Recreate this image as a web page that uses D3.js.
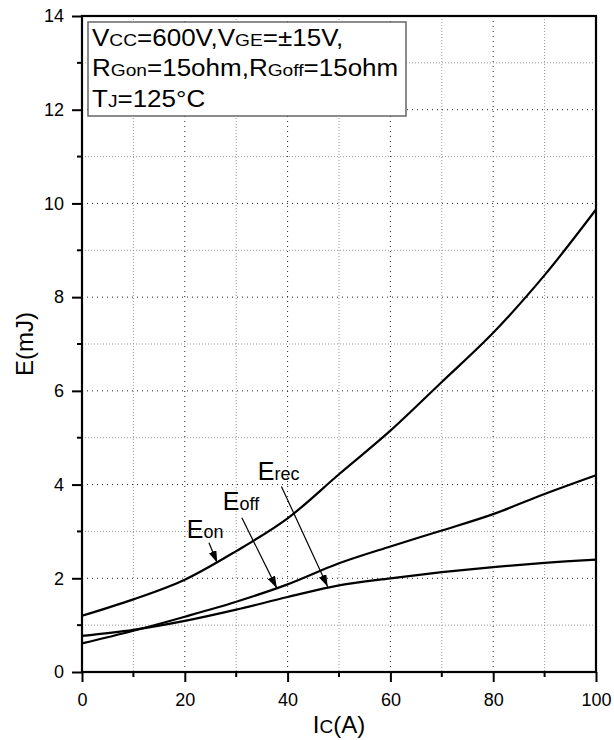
<!DOCTYPE html>
<html>
<head>
<meta charset="utf-8">
<script src="https://cdn.jsdelivr.net/npm/d3@7"></script>
<style>
  body { margin: 0; background: #fff; }
  svg { font-family: "Liberation Sans", Arial, sans-serif; }
</style>
</head>
<body>
<div id="chart"></div>
<script>
// data
const ic = [0, 10, 20, 30, 40, 50, 60, 70, 80, 90, 100];
const eOn = [1.2, 1.55, 1.97, 2.58, 3.28, 4.22, 5.15, 6.19, 7.24, 8.47, 9.87];
const eOff = [0.61, 0.88, 1.18, 1.5, 1.87, 2.32, 2.68, 3.02, 3.37, 3.8, 4.2];
const eRec = [0.77, 0.9, 1.09, 1.33, 1.6, 1.85, 2.0, 2.13, 2.24, 2.33, 2.4];
const xTicks = [0, 20, 40, 60, 80, 100];
const yTicks = [0, 2, 4, 6, 8, 10, 12, 14];

// labels + arrows (data units): [labelX, labelY, fromX, fromY, toX, toY]
const notes = [
  { main: 'E', sub: 'on',  pos: [20.4, 2.86, 24.7, 2.76, 26.3, 2.33] },
  { main: 'E', sub: 'off', pos: [27.4, 3.46, 31.1, 3.29, 37.9, 1.79] },
  { main: 'E', sub: 'rec', pos: [34.2, 4.10, 38.8, 3.96, 47.8, 1.82] }
];

const W = 614, H = 740;
const margin = { top: 16, right: 18, bottom: 68, left: 82 },
      width = W - margin.left - margin.right,
      height = H - margin.top - margin.bottom;

const svg = d3.select('#chart').append('svg')
  .attr('width', W).attr('height', H);

const defs = svg.append('defs');
defs.append('marker')
  .attr('id', 'arr')
  .attr('viewBox', '0 0 12 8')
  .attr('refX', 12).attr('refY', 4)
  .attr('markerWidth', 12).attr('markerHeight', 8)
  .attr('markerUnits', 'userSpaceOnUse')
  .attr('orient', 'auto')
  .append('path').attr('d', 'M0,0 L12,4 L0,8 Z').attr('fill', '#000');

const g = svg.append('g')
  .attr('transform', `translate(${margin.left},${margin.top})`);

const x = d3.scaleLinear().domain([0, 100]).range([0, width]);
const y = d3.scaleLinear().domain([0, 14]).range([height, 0]);

// grid
const xGrid = d3.range(10, 100, 10);
const yGrid = d3.range(1, 14, 1);
g.selectAll('.gx').data(xGrid).enter().append('line')
  .attr('x1', d => x(d)).attr('x2', d => x(d))
  .attr('y1', 0).attr('y2', height)
  .attr('stroke', d => d % 20 === 0 ? '#222' : '#999')
  .attr('stroke-width', 1)
  .attr('stroke-dasharray', d => d % 20 === 0 ? '1,4' : '1,2');
g.selectAll('.gy').data(yGrid).enter().append('line')
  .attr('x1', 0).attr('x2', width)
  .attr('y1', d => y(d)).attr('y2', d => y(d))
  .attr('stroke', d => d % 2 === 0 ? '#222' : '#999')
  .attr('stroke-width', 1)
  .attr('stroke-dasharray', d => d % 2 === 0 ? '1,4' : '1,2');

// legend box
const box = g.append('g');
box.append('rect')
  .attr('x', 6).attr('y', 6).attr('width', 318).attr('height', 94)
  .attr('fill', '#fff').attr('stroke', '#666').attr('stroke-width', 1.5);

const lines = [
  [['V', 0], ['CC', 1], ['=600V,', 0], ['V', 0], ['GE', 1], ['=\u00B115V,', 0]],
  [['R', 0], ['Gon', 1], ['=15ohm,', 0], ['R', 0], ['Goff', 1], ['=15ohm', 0]],
  [['T', 0], ['J', 1], ['=125\u00B0C', 0]]
];
const legText = box.append('g').attr('transform', 'translate(10,0) scale(1.13,1)');
lines.forEach((ln, i) => {
  const t = legText.append('text')
    .attr('x', 0).attr('y', 30 + i * 30.5)
    .attr('font-size', 23).attr('fill', '#000');
  ln.forEach(([s, small]) => {
    t.append('tspan').attr('font-size', small ? 17 : 23).text(s);
  });
});

// axes
const xAxis = d3.axisBottom(x).tickValues(xTicks).tickSize(10).tickPadding(8).tickFormat(d3.format('d'));
const yAxis = d3.axisLeft(y).tickValues(yTicks).tickSize(10).tickPadding(8).tickFormat(d3.format('d'));

const ax = g.append('g').attr('transform', `translate(0,${height})`).call(xAxis);
const ay = g.append('g').call(yAxis);
[ax, ay].forEach(a => {
  a.select('.domain').remove();
  a.selectAll('line').attr('stroke', '#000').attr('stroke-width', 2);
  a.selectAll('text').attr('font-size', 18).attr('font-family', '"Liberation Sans", Arial, sans-serif').attr('fill', '#000');
});
ax.selectAll('text').attr('dy', '0.9em');

// minor ticks
g.selectAll('.mx').data(xGrid.filter(d => d % 20 !== 0)).enter().append('line')
  .attr('x1', d => x(d)).attr('x2', d => x(d))
  .attr('y1', height).attr('y2', height + 5)
  .attr('stroke', '#000').attr('stroke-width', 2);
g.selectAll('.my').data(yGrid.filter(d => d % 2 !== 0)).enter().append('line')
  .attr('x1', -5).attr('x2', 0)
  .attr('y1', d => y(d)).attr('y2', d => y(d))
  .attr('stroke', '#000').attr('stroke-width', 2);

// frame
g.append('rect')
  .attr('x', 0).attr('y', 0).attr('width', width).attr('height', height)
  .attr('fill', 'none').attr('stroke', '#000').attr('stroke-width', 2.2);

// curves
const line = d3.line()
  .x(d => x(d[0])).y(d => y(d[1]))
  .curve(d3.curveCatmullRom.alpha(0.5));
[eOn, eOff, eRec].forEach(s => {
  g.append('path')
    .datum(ic.map((v, i) => [v, s[i]]))
    .attr('d', line)
    .attr('fill', 'none').attr('stroke', '#000').attr('stroke-width', 2.2);
});

// annotations
notes.forEach(n => {
  const [lx, ly, fx, fy, tx, ty] = n.pos;
  const t = g.append('text')
    .attr('x', x(lx)).attr('y', y(ly)).attr('fill', '#000');
  t.append('tspan').attr('font-size', 25).text(n.main);
  t.append('tspan').attr('font-size', 18).text(n.sub);
  g.append('line')
    .attr('x1', x(fx)).attr('y1', y(fy)).attr('x2', x(tx)).attr('y2', y(ty))
    .attr('stroke', '#000').attr('stroke-width', 1.2)
    .attr('marker-end', 'url(#arr)');
});

// axis titles
const xt = svg.append('text')
  .attr('x', margin.left + x(50)).attr('y', 733)
  .attr('text-anchor', 'middle').attr('fill', '#000');
xt.append('tspan').attr('font-size', 24).text('I');
xt.append('tspan').attr('font-size', 19).text('C');
xt.append('tspan').attr('font-size', 24).text('(A)');

svg.append('text')
  .attr('transform', `translate(33,${margin.top + y(7)}) rotate(-90)`)
  .attr('text-anchor', 'middle').attr('font-size', 24).attr('fill', '#000')
  .text('E(mJ)');
</script>
</body>
</html>
